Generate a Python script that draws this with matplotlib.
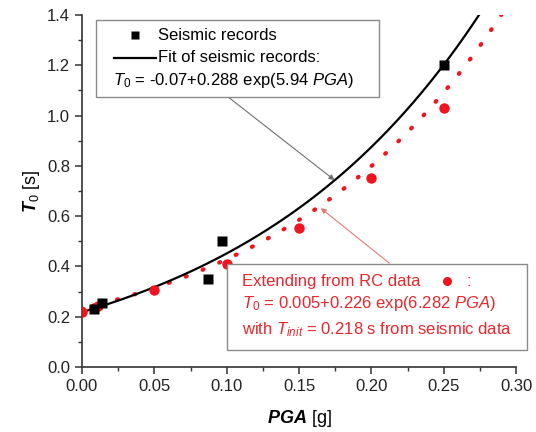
import numpy as np
import matplotlib
matplotlib.use("Agg")
import matplotlib.pyplot as plt
from matplotlib.lines import Line2D
from matplotlib.patches import Rectangle
from matplotlib.ticker import MultipleLocator

plt.rcParams['font.family'] = ['Liberation Sans', 'DejaVu Sans']
plt.rcParams['mathtext.fontset'] = 'custom'
plt.rcParams['mathtext.rm'] = 'Liberation Sans'
plt.rcParams['mathtext.it'] = 'Liberation Sans:italic'
plt.rcParams['mathtext.bf'] = 'Liberation Sans:bold'
plt.rcParams['mathtext.bfit'] = 'Liberation Sans:bold:italic'

# seismic records (black squares)
seis_pga = [0.008, 0.014, 0.087, 0.097, 0.25]
seis_t0 = [0.23, 0.253, 0.35, 0.50, 1.20]

# values extended from RC data (red circles)
rc_pga = [0.0, 0.008, 0.011, 0.05, 0.10, 0.15, 0.20, 0.25]
rc_t0 = [0.22, 0.236, 0.243, 0.305, 0.41, 0.553, 0.75, 1.03]

# fit coefficients: T0 = a + b*exp(c*PGA)
seis_fit = [-0.07, 0.288, 5.94]
rc_fit = [0.005, 0.226, 6.282]

RED = '#f0141e'
RED_TXT = '#e8262c'

fig = plt.figure(figsize=(5.36, 4.32), dpi=100)
ax = fig.add_axes([82/536, 65/432, 434/536, 352/432])

pga = np.linspace(0, 0.30, 400)
ax.plot(pga, seis_fit[0] + seis_fit[1]*np.exp(seis_fit[2]*pga), color='black', lw=1.6, zorder=3)
ax.plot(pga, rc_fit[0] + rc_fit[1]*np.exp(rc_fit[2]*pga), color=RED, lw=3.0,
        linestyle=(0, (0.25, 4.1)), dash_capstyle='round', zorder=2)
ax.plot(rc_pga, rc_t0, 'o', color=RED, ms=7.5, mec='none', zorder=4)
ax.plot(seis_pga, seis_t0, 's', color='black', ms=6.5, mec='none', zorder=5)

ax.set_xlim(0, 0.30)
ax.set_ylim(0, 1.4)
ax.xaxis.set_major_locator(MultipleLocator(0.05))
ax.xaxis.set_minor_locator(MultipleLocator(0.025))
ax.yaxis.set_major_locator(MultipleLocator(0.2))
ax.yaxis.set_minor_locator(MultipleLocator(0.1))
ax.xaxis.set_major_formatter(lambda v, p: f'{v:.2f}')
ax.yaxis.set_major_formatter(lambda v, p: f'{v:.1f}')
for side in ['top', 'right']:
    ax.spines[side].set_visible(False)
for side in ['left', 'bottom']:
    ax.spines[side].set_linewidth(1.2)
    ax.spines[side].set_color('#333333')
ax.tick_params(which='major', direction='out', length=5, width=1.1, labelsize=12,
               color='#333333', labelcolor='#222222')
ax.tick_params(which='minor', direction='out', length=3, width=1.0, color='#333333')

ax.set_xlabel(r'$\mathbfit{PGA}$ [g]', fontsize=13, labelpad=10)
ax.set_ylabel(r'$\mathbfit{T}_{\mathit{0}}$ [s]', fontsize=13, labelpad=4)

# arrows pointing at the two fitted curves
ax.annotate('', xy=(0.1746, 0.743), xytext=(0.101, 1.074),
            arrowprops=dict(arrowstyle='-|>', color='#707070', lw=0.8,
                            mutation_scale=8, shrinkA=0, shrinkB=0))
ax.annotate('', xy=(0.165, 0.632), xytext=(0.2124, 0.413),
            arrowprops=dict(arrowstyle='-|>', color='#e87878', lw=0.8,
                            mutation_scale=8, shrinkA=0, shrinkB=0))

# upper box: seismic records
tr = ax.transAxes
ax.add_patch(Rectangle((0.0323, 0.767), 0.6517, 0.219, transform=tr, fill=True,
                       facecolor='white', edgecolor='#8a8a8a', lw=1.0, zorder=6, clip_on=False))
ax.add_line(Line2D([0.122], [0.943], marker='s', color='black', ms=6, mec='none',
                   transform=tr, zorder=7, clip_on=False))
ax.text(0.175, 0.943, 'Seismic records', transform=tr, fontsize=12, va='center', zorder=7)
ax.add_line(Line2D([0.0737, 0.1705], [0.878, 0.878], color='black', lw=1.6,
                   transform=tr, zorder=7, clip_on=False))
ax.text(0.175, 0.878, 'Fit of seismic records:', transform=tr, fontsize=12, va='center', zorder=7)
ax.text(0.0714, 0.815, r'$T_0$ = -0.07+0.288 exp(5.94 $PGA$)', transform=tr,
        fontsize=12, va='center', zorder=7)

# lower box: RC data
ax.add_patch(Rectangle((0.334, 0.0483), 0.691, 0.2443, transform=tr, fill=True,
                       facecolor='white', edgecolor='#8a8a8a', lw=1.0, zorder=6, clip_on=False))
ax.text(0.368, 0.2443, 'Extending from RC data', transform=tr, fontsize=12,
        va='center', color=RED_TXT, zorder=7)
ax.add_line(Line2D([0.840], [0.2443], marker='o', color=RED, ms=6.5, mec='none',
                   transform=tr, zorder=7, clip_on=False))
ax.text(0.886, 0.2443, ':', transform=tr, fontsize=12, va='center', color=RED_TXT, zorder=7)
ax.text(0.368, 0.179, r'$T_0$ = 0.005+0.226 exp(6.282 $PGA$)', transform=tr,
        fontsize=12, va='center', color=RED_TXT, zorder=7)
ax.text(0.368, 0.105, r'with $T_{init}$ = 0.218 s from seismic data', transform=tr,
        fontsize=12, va='center', color=RED_TXT, zorder=7)

fig.savefig('out.png', dpi=100)
